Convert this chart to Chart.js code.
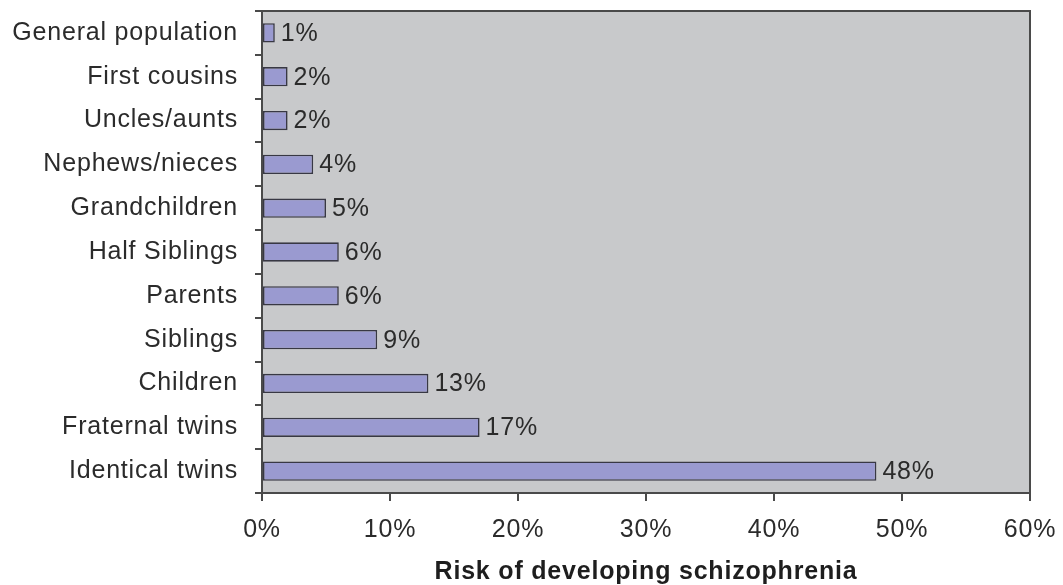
<!DOCTYPE html>
<html>
<head>
<meta charset="utf-8">
<script src="https://cdn.jsdelivr.net/npm/chart.js@4/dist/chart.umd.min.js"></script>
<style>
  html, body { margin: 0; padding: 0; background: #ffffff; }
  #wrap { width: 1063px; height: 585px; position: relative; }
</style>
</head>
<body>
<div id="wrap"><canvas id="chart" width="1063" height="585"></canvas></div>
<script>
// Relationship to a person with schizophrenia
const categories = [
  'General population', 'First cousins', 'Uncles/aunts', 'Nephews/nieces',
  'Grandchildren', 'Half Siblings', 'Parents', 'Siblings', 'Children',
  'Fraternal twins', 'Identical twins'
];
// Lifetime risk, in percent
const riskValues = [1, 2, 2, 4, 5, 6, 6, 9, 13, 17, 48];
const xTickStep = 10;
const xMin = 0;
const xMax = 60;
const axisTitle = 'Risk of developing schizophrenia';

const textColor = '#2b2b2b';
const frameColor = '#4a4a4a';
const fontFamily = "'Liberation Sans', Arial, Helvetica, sans-serif";
const spacing = '0.8px';

// Gray plot background plus top and right frame lines
const plotFrame = {
  id: 'plotFrame',
  beforeDraw(chart) {
    const { ctx, chartArea: a } = chart;
    ctx.letterSpacing = spacing;
    ctx.save();
    ctx.fillStyle = '#c8c9cb';
    ctx.fillRect(a.left, a.top, a.right - a.left, a.bottom - a.top);
    ctx.restore();
  },
  afterDatasetsDraw(chart) {
    const { ctx, chartArea: a } = chart;
    ctx.save();
    ctx.strokeStyle = frameColor;
    ctx.lineWidth = 2;
    ctx.beginPath();
    ctx.moveTo(a.left, a.top);
    ctx.lineTo(a.right, a.top);
    ctx.lineTo(a.right, a.bottom);
    ctx.stroke();
    ctx.restore();
  }
};

// Percentage labels to the right of each bar
const valueLabels = {
  id: 'valueLabels',
  afterDatasetsDraw(chart) {
    const { ctx } = chart;
    const meta = chart.getDatasetMeta(0);
    const xs = chart.scales.x;
    ctx.save();
    ctx.letterSpacing = spacing;
    ctx.font = '25px ' + fontFamily;
    ctx.fillStyle = textColor;
    ctx.textAlign = 'left';
    ctx.textBaseline = 'middle';
    meta.data.forEach((bar, i) => {
      const v = chart.data.datasets[0].data[i];
      ctx.fillText(v + '%', xs.getPixelForValue(v) + 6, bar.y + 1);
    });
    ctx.restore();
  }
};

new Chart(document.getElementById('chart'), {
  type: 'bar',
  data: {
    labels: categories,
    datasets: [{
      data: riskValues,
      backgroundColor: '#9a9ad0',
      borderColor: '#383844',
      borderWidth: 1.6,
      borderSkipped: false,
      categoryPercentage: 1,
      barPercentage: 0.44
    }]
  },
  options: {
    indexAxis: 'y',
    responsive: false,
    animation: false,
    devicePixelRatio: 1,
    layout: { padding: { top: 11, right: 33, bottom: 0, left: 0 } },
    plugins: {
      legend: { display: false },
      tooltip: { enabled: false }
    },
    scales: {
      x: {
        type: 'linear',
        min: xMin,
        max: xMax,
        ticks: {
          stepSize: xTickStep,
          color: textColor,
          font: { family: fontFamily, size: 25 },
          padding: 14,
          callback: v => v + '%'
        },
        grid: {
          drawOnChartArea: false,
          drawTicks: true,
          tickLength: 8,
          color: frameColor,
          lineWidth: 2
        },
        border: { display: true, color: frameColor, width: 2 },
        title: {
          display: true,
          text: axisTitle,
          color: '#1e1e1e',
          font: { family: fontFamily, size: 25, weight: 'bold', lineHeight: 1 },
          padding: { top: 14, bottom: 0 }
        },
        afterFit(scale) {
          scale.height = 92;
          scale.paddingLeft = 0;
          scale.paddingRight = 0;
        }
      },
      y: {
        ticks: {
          color: textColor,
          font: { family: fontFamily, size: 25 },
          padding: 17,
          autoSkip: false
        },
        grid: {
          offset: true,
          drawOnChartArea: false,
          drawTicks: true,
          tickLength: 7,
          color: frameColor,
          lineWidth: 2
        },
        border: { display: true, color: frameColor, width: 2 },
        afterFit(scale) {
          scale.width = 262;
          scale.paddingTop = 0;
          scale.paddingBottom = 0;
        }
      }
    }
  },
  plugins: [plotFrame, valueLabels]
});
</script>
</body>
</html>
